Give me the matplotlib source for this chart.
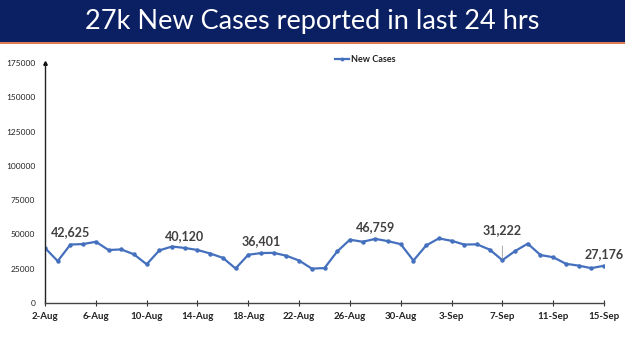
import matplotlib
matplotlib.use("Agg")
import matplotlib.pyplot as plt
from matplotlib.patches import Rectangle

dates = ["2-Aug", "3-Aug", "4-Aug", "5-Aug", "6-Aug", "7-Aug", "8-Aug", "9-Aug", "10-Aug",
         "11-Aug", "12-Aug", "13-Aug", "14-Aug", "15-Aug", "16-Aug", "17-Aug", "18-Aug",
         "19-Aug", "20-Aug", "21-Aug", "22-Aug", "23-Aug", "24-Aug", "25-Aug", "26-Aug",
         "27-Aug", "28-Aug", "29-Aug", "30-Aug", "31-Aug", "1-Sep", "2-Sep", "3-Sep",
         "4-Sep", "5-Sep", "6-Sep", "7-Sep", "8-Sep", "9-Sep", "10-Sep", "11-Sep",
         "12-Sep", "13-Sep", "14-Sep", "15-Sep"]
new_cases = [40134, 30549, 42625, 42982, 44643, 38628, 39070, 35499, 28204,
             38353, 41195, 40120, 38667, 36083, 32937, 25166, 35178,
             36401, 36571, 34457, 30948, 25072, 25467, 37593, 46164,
             44658, 46759, 45083, 42909, 30941, 41965, 47092, 45352,
             42618, 42766, 38948, 31222, 37875, 43263, 34973, 33376,
             28591, 27254, 25404, 27176]
labelled = ["4-Aug", "13-Aug", "19-Aug", "28-Aug", "7-Sep", "15-Sep"]
y_ticks = [0, 25000, 50000, 75000, 100000, 125000, 150000, 175000]
title = "27k New Cases reported in last 24 hrs"

plt.rcParams['font.family'] = ['Lato', 'DejaVu Sans']

fig = plt.figure(figsize=(6.25, 3.51), dpi=100)
# banner
fig.patches.append(Rectangle((0, 1 - 42 / 351), 1, 42 / 351, transform=fig.transFigure,
                             facecolor="#0b1f63", edgecolor="none", zorder=0))
fig.patches.append(Rectangle((0, 1 - 44 / 351), 1, 2 / 351, transform=fig.transFigure,
                             facecolor="#e07b53", edgecolor="none", zorder=0))
fig.text(0.5, 1 - 21 / 351, title, color="white", fontsize=19.5, ha="center", va="center")

ax = fig.add_axes([45 / 625, 1 - 303 / 351, (604 - 45) / 625, (303 - 63) / 351])
x = list(range(len(dates)))
ax.plot(x, new_cases, color="#4470BE", lw=1.6, marker="o", ms=2.2, label="New Cases")
ax.set_xlim(0, len(dates) - 1)
ax.set_ylim(0, 175000)
ax.set_yticks(y_ticks)
ax.set_yticklabels([str(v) for v in y_ticks], fontsize=6, color="#222222")
ax.tick_params(axis="y", length=0, pad=7)
ax.set_xticks(x[::4])
ax.set_xticklabels(dates[::4], fontsize=7, fontweight="bold", color="#222222")
ax.tick_params(axis="x", direction="inout", length=5, width=0.8, pad=4, color="#333333")
for s in ["top", "right"]:
    ax.spines[s].set_visible(False)
ax.spines["left"].set_color("#222222")
ax.spines["bottom"].set_color("#444444")
ax.spines["left"].set_linewidth(1.0)
ax.spines["bottom"].set_linewidth(1.0)
ax.plot(0, 1, "^k", ms=2.5, transform=ax.transAxes, clip_on=False)

for d in labelled:
    i = dates.index(d)
    v = new_cases[i]
    if d == "7-Sep":
        ax.annotate(f"{v:,}", (i, v), xytext=(0, 30), textcoords="offset pixels",
                    ha="center", va="center", fontsize=9, fontweight="bold", color="#404040",
                    arrowprops=dict(arrowstyle="-", color="#999999", lw=0.6, shrinkA=5, shrinkB=1))
    else:
        ax.annotate(f"{v:,}", (i, v), xytext=(0, 12), textcoords="offset pixels",
                    ha="center", va="center", fontsize=9, fontweight="bold", color="#404040")

leg = ax.legend(loc="center", bbox_to_anchor=(365 / 625, 1 - 60 / 351), bbox_transform=fig.transFigure,
                frameon=False, fontsize=6.5, handlelength=1.6, handletextpad=0.2, markerscale=0.8)
for t in leg.get_texts():
    t.set_fontweight("bold")
    t.set_color("#222222")

fig.savefig("out.png", dpi=100)
